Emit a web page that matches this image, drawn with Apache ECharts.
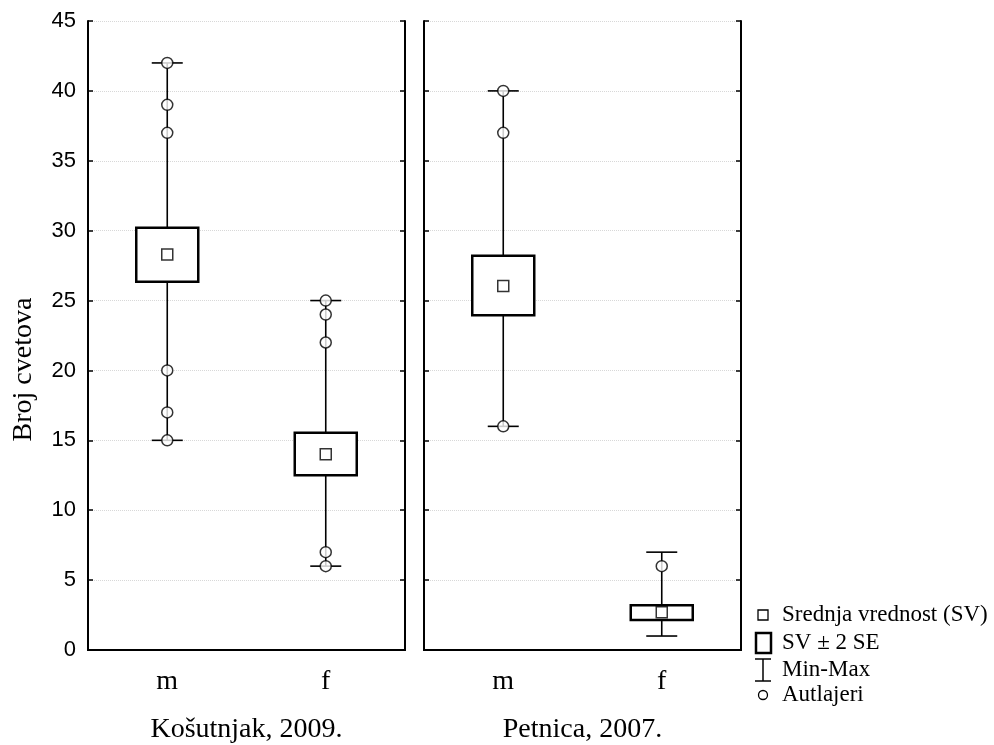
<!DOCTYPE html>
<html>
<head>
<meta charset="utf-8">
<script src="https://cdn.jsdelivr.net/npm/echarts@6/dist/echarts.min.js"></script>
<style>html,body{margin:0;padding:0;background:#fff;}#c{width:994px;height:745px;}</style>
</head>
<body>
<div id="c"></div>
<script>
// ---- data ----
const categories = ['m', 'f'];
const panelNames = ['Košutnjak, 2009.', 'Petnica, 2007.'];
const yTicks = [0, 5, 10, 15, 20, 25, 30, 35, 40, 45];

const kosMean = [28.3, 14.0];
const kosLow = [26.35, 12.5];
const kosHigh = [30.2, 15.55];
const kosMin = [15, 6];
const kosMax = [42, 25];
const kosOutM = [42, 39, 37, 20, 17, 15];
const kosOutF = [25, 24, 22, 7, 6];

const petMean = [26.05, 2.7];
const petLow = [23.95, 2.15];
const petHigh = [28.2, 3.2];
const petMin = [16, 1];
const petMax = [40, 7];
const petOutM = [40, 37, 16];
const petOutF = [6];

const legendLabels = ['Srednja vrednost (SV)', 'SV ± 2 SE', 'Min-Max', 'Autlajeri'];

// ---- build ----
const panels = [
  {mean: kosMean, low: kosLow, high: kosHigh, min: kosMin, max: kosMax, out: [kosOutM, kosOutF]},
  {mean: petMean, low: petLow, high: petHigh, min: petMin, max: petMax, out: [petOutM, petOutF]}
];

const serif = 'Liberation Serif';
const sans = 'Liberation Sans';

const grids = [
  {left: 88, width: 317, top: 21, bottom: 95, outerBoundsMode: 'none', containLabel: false},
  {left: 424, width: 317, top: 21, bottom: 95, outerBoundsMode: 'none', containLabel: false}
];

const xAxes = [], yAxes = [], series = [];
panels.forEach((p, i) => {
  xAxes.push({
    type: 'category', data: categories, gridIndex: i, position: 'bottom', boundaryGap: true,
    axisLine: {lineStyle: {color: '#000', width: 2}},
    axisTick: {inside: true, alignWithLabel: true, length: 5, lineStyle: {color: '#000', width: 1.5}},
    axisLabel: {color: '#000', fontFamily: serif, fontSize: 28, margin: 18},
    name: panelNames[i], nameLocation: 'middle', nameGap: 66,
    nameTextStyle: {color: '#000', fontFamily: serif, fontSize: 28}
  });
  xAxes.push({
    type: 'category', data: categories, gridIndex: i, position: 'top', boundaryGap: true,
    axisLine: {lineStyle: {color: '#000', width: 2}},
    axisTick: {inside: true, alignWithLabel: true, length: 5, lineStyle: {color: '#000', width: 1.5}},
    axisLabel: {show: false}
  });
  yAxes.push({
    type: 'value', gridIndex: i, min: 0, max: 45, interval: 5, position: 'left',
    axisLine: {show: true, lineStyle: {color: '#000', width: 2}},
    axisTick: {show: true, inside: true, length: 5, lineStyle: {color: '#000', width: 1.5}},
    splitLine: {show: true, lineStyle: {color: '#d8d8d8', type: 'dotted', width: 1}},
    axisLabel: {show: i === 0, color: '#000', fontFamily: sans, fontSize: 22, margin: 12,
      formatter: v => yTicks.indexOf(v) >= 0 ? String(v) : ''},
    name: i === 0 ? 'Broj cvetova' : '', nameLocation: 'middle', nameGap: 50,
    nameTextStyle: {color: '#000', fontFamily: serif, fontSize: 28, padding: [0, 68, 0, 0]}
  });
  yAxes.push({
    type: 'value', gridIndex: i, min: 0, max: 45, interval: 5, position: 'right',
    axisLine: {show: true, lineStyle: {color: '#000', width: 2}},
    axisTick: {show: true, inside: true, length: 5, lineStyle: {color: '#000', width: 1.5}},
    splitLine: {show: false}, axisLabel: {show: false}
  });

  const xi = i * 2, yi = i * 2;
  // whiskers (min-max)
  series.push({
    type: 'custom', xAxisIndex: xi, yAxisIndex: yi, z: 1,
    data: categories.map((c, j) => [j, p.min[j], p.max[j]]),
    encode: {x: 0, y: [1, 2]},
    renderItem: function (params, api) {
      const b = api.coord([api.value(0), api.value(1)]);
      const t = api.coord([api.value(0), api.value(2)]);
      const hw = 15.5;
      const st = {stroke: '#000', lineWidth: 1.6};
      return {type: 'group', children: [
        {type: 'line', shape: {x1: b[0], y1: b[1], x2: t[0], y2: t[1]}, style: st},
        {type: 'line', shape: {x1: b[0] - hw, y1: b[1], x2: b[0] + hw, y2: b[1]}, style: st},
        {type: 'line', shape: {x1: t[0] - hw, y1: t[1], x2: t[0] + hw, y2: t[1]}, style: st}
      ]};
    }
  });
  // boxes (mean ± 2 SE)
  series.push({
    type: 'custom', xAxisIndex: xi, yAxisIndex: yi, z: 2,
    data: categories.map((c, j) => [j, p.low[j], p.high[j]]),
    encode: {x: 0, y: [1, 2]},
    renderItem: function (params, api) {
      const b = api.coord([api.value(0), api.value(1)]);
      const t = api.coord([api.value(0), api.value(2)]);
      const w = 62;
      return {type: 'rect', shape: {x: b[0] - w / 2, y: t[1], width: w, height: b[1] - t[1]},
        style: {fill: '#fff', stroke: '#000', lineWidth: 2.5}};
    }
  });
  // means
  series.push({
    type: 'scatter', xAxisIndex: xi, yAxisIndex: yi, z: 3,
    data: categories.map((c, j) => [j, p.mean[j]]),
    symbol: 'rect', symbolSize: 11,
    itemStyle: {color: '#fff', borderColor: '#000', borderWidth: 1.5}
  });
  // outliers
  const outData = [];
  p.out.forEach((arr, j) => arr.forEach(v => outData.push([j, v])));
  series.push({
    type: 'scatter', xAxisIndex: xi, yAxisIndex: yi, z: 4,
    data: outData, symbol: 'circle', symbolSize: 11,
    itemStyle: {color: '#fff', borderColor: '#000', borderWidth: 1.5}
  });
});

// legend drawn as graphic
const lx = 763, ly = [615, 643, 670, 695], tx = 782;
const graphic = [
  {type: 'rect', shape: {x: lx - 5, y: ly[0] - 5, width: 10, height: 10}, style: {fill: '#fff', stroke: '#000', lineWidth: 1.3}},
  {type: 'rect', shape: {x: lx - 7, y: ly[1] - 10, width: 15, height: 20}, style: {fill: '#fff', stroke: '#000', lineWidth: 2.5}},
  {type: 'line', shape: {x1: lx, y1: ly[2] - 11, x2: lx, y2: ly[2] + 11}, style: {stroke: '#000', lineWidth: 1.5}},
  {type: 'line', shape: {x1: lx - 8, y1: ly[2] - 11, x2: lx + 8, y2: ly[2] - 11}, style: {stroke: '#000', lineWidth: 1.5}},
  {type: 'line', shape: {x1: lx - 8, y1: ly[2] + 11, x2: lx + 8, y2: ly[2] + 11}, style: {stroke: '#000', lineWidth: 1.5}},
  {type: 'circle', shape: {cx: lx, cy: ly[3], r: 4.5}, style: {fill: '#fff', stroke: '#000', lineWidth: 1.3}}
];
legendLabels.forEach((t, k) => {
  graphic.push({type: 'text', x: tx, y: ly[k],
    style: {text: t, fill: '#000', font: '23px "Liberation Serif"', verticalAlign: 'middle'}});
});

const chart = echarts.init(document.getElementById('c'), null, {renderer: 'canvas'});
chart.setOption({
  animation: false,
  backgroundColor: '#fff',
  grid: grids,
  xAxis: xAxes,
  yAxis: yAxes,
  series: series,
  graphic: graphic
});
</script>
</body>
</html>
